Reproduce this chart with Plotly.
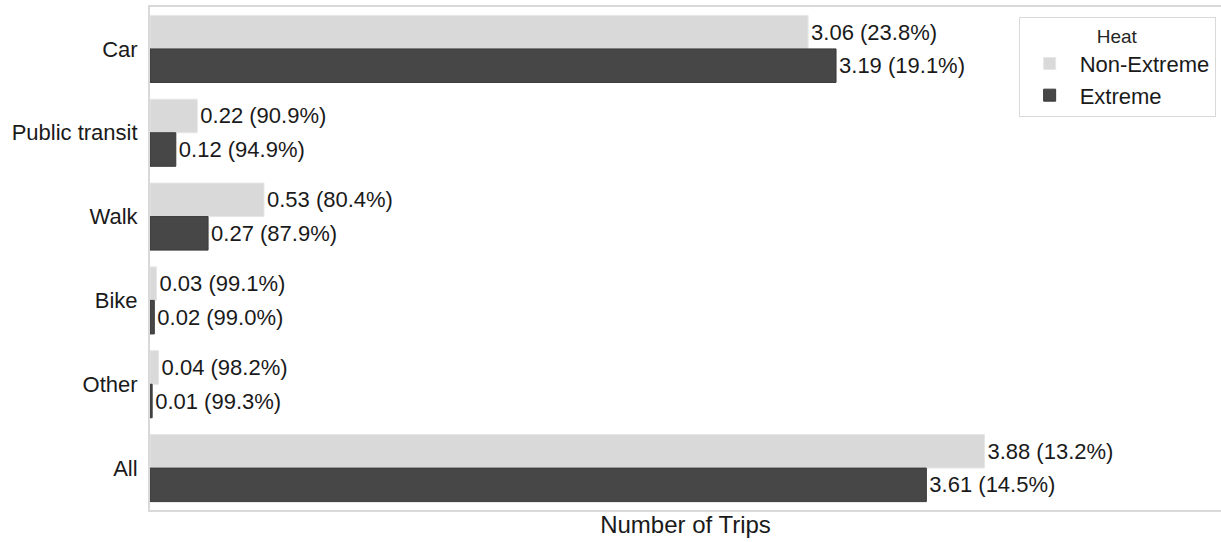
import plotly.graph_objects as go

categories = ["Car", "Public transit", "Walk", "Bike", "Other", "All"]
non_extreme = [3.06, 0.22, 0.53, 0.03, 0.04, 3.88]
extreme = [3.19, 0.12, 0.27, 0.02, 0.01, 3.61]
non_extreme_pct = [23.8, 90.9, 80.4, 99.1, 98.2, 13.2]
extreme_pct = [19.1, 94.9, 87.9, 99.0, 99.3, 14.5]

FONT = "Arial, 'Liberation Sans', sans-serif"
FS = 22

def labels(vals, pcts):
    return [f"{v:.2f} ({p:.1f}%)" for v, p in zip(vals, pcts)]

fig = go.Figure()
fig.add_trace(go.Bar(
    y=categories, x=non_extreme, orientation="h", name="Non-Extreme",
    marker=dict(color="#d9d9d9", line=dict(color="#e6e6e6", width=1)),
    text=labels(non_extreme, non_extreme_pct), textposition="outside",
    textfont=dict(family=FONT, size=FS, color="#1a1a1a"), cliponaxis=False,
))
fig.add_trace(go.Bar(
    y=categories, x=extreme, orientation="h", name="Extreme",
    marker=dict(color="#474747", line=dict(color="#3a3a3a", width=1)),
    text=labels(extreme, extreme_pct), textposition="outside",
    textfont=dict(family=FONT, size=FS, color="#1a1a1a"), cliponaxis=False,
))

fig.update_layout(
    width=1221, height=542,
    margin=dict(l=150, r=0, t=7, b=32, autoexpand=False),
    paper_bgcolor="white", plot_bgcolor="white",
    barmode="group", bargap=0.2, bargroupgap=0,
    font=dict(family=FONT, size=FS, color="#1a1a1a"),
    showlegend=True,
    legend=dict(
        title=dict(text="Heat", side="top center", font=dict(size=19, family=FONT, color="#262626")),
        x=0.995, xanchor="right", y=0.98, yanchor="top",
        bordercolor="#d9d9d9", borderwidth=1, bgcolor="white",
        font=dict(family=FONT, size=FS, color="#1a1a1a"),
        itemwidth=50, tracegroupgap=0,
    ),
    xaxis=dict(
        range=[0, 4.98], showticklabels=False, showgrid=False, zeroline=False,
        showline=True, mirror=True, linecolor="#d9d9d9", linewidth=2,
        title=dict(text="Number of Trips", font=dict(family=FONT, size=24, color="#1a1a1a"), standoff=5),
        ticks="", automargin=False,
    ),
    yaxis=dict(
        categoryorder="array", categoryarray=categories, autorange="reversed",
        showgrid=False, zeroline=False, showline=True, mirror=True,
        linecolor="#d9d9d9", linewidth=2, ticks="", ticklabelstandoff=6,
        tickfont=dict(family=FONT, size=FS, color="#1a1a1a"), automargin=False,
    ),
)

fig.write_html(
    "out.html",
    config={"displayModeBar": False},
    post_script="document.body.style.margin='0';document.body.style.overflow='hidden';",
)
